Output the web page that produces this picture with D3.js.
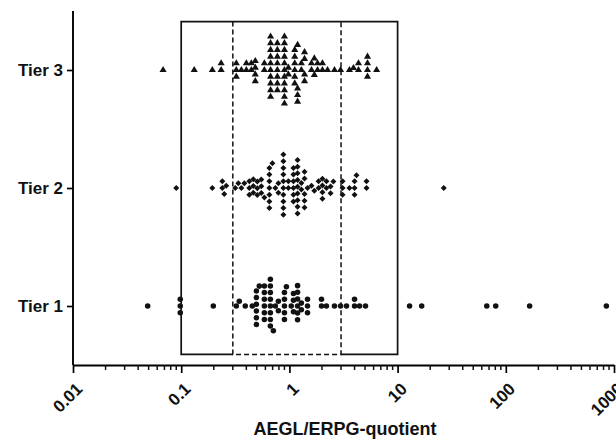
<!DOCTYPE html>
<html>
<head>
<meta charset="utf-8">
<script src="https://cdn.jsdelivr.net/npm/d3@7"></script>
<style>
  body { margin: 0; background: #fff; }
  text { font-family: "Liberation Sans", Arial, sans-serif; font-weight: bold; fill: #111; }
</style>
</head>
<body>
<svg id="chart" width="616" height="440"></svg>
<script>
const tiers = ["Tier 1", "Tier 2", "Tier 3"]
const xTicks = [0.01, 0.1, 1, 10, 100, 1000]

// AEGL/ERPG quotients per tier
const tier1 = [0.049, 0.098, 0.098, 0.098, 0.198, 0.323, 0.344, 0.391, 0.454,
  0.495, 0.495, 0.495, 0.495, 0.495, 0.495, 0.527, 0.587, 0.587, 0.587, 0.587, 0.587, 0.587,
  0.667, 0.667, 0.667, 0.667, 0.667, 0.667, 0.667, 0.667, 0.711, 0.742, 0.791, 0.791,
  0.90, 0.90, 0.90, 0.90, 0.90, 0.938, 1.04, 1.09, 1.09, 1.09,
  1.19, 1.19, 1.19, 1.19, 1.19, 1.19, 1.29, 1.29,
  1.47, 1.47, 1.47, 1.98, 1.98, 2.2, 2.61, 2.97, 3.37, 4.0, 4.0, 4.45, 5.05,
  12.9, 16.7, 66.7, 80.7, 166, 850]

const tier2 = [0.09, 0.194, 0.24, 0.24, 0.25, 0.261, 0.316, 0.337, 0.36, 0.383,
  0.426, 0.426, 0.426, 0.464, 0.464, 0.464, 0.505, 0.505, 0.505, 0.55, 0.55, 0.55,
  0.587, 0.653, 0.653, 0.653, 0.653, 0.653, 0.653, 0.653, 0.696, 0.742, 0.791, 0.791,
  0.88, 0.88, 0.88, 0.88, 0.88, 0.88, 0.88, 0.88, 0.88, 0.88, 0.979, 0.979,
  1.09, 1.09, 1.09, 1.09, 1.09, 1.09, 1.19, 1.19, 1.19, 1.19, 1.19, 1.19, 1.19, 1.19, 1.19,
  1.29, 1.29, 1.38, 1.38, 1.38, 1.38, 1.38, 1.47, 1.6, 1.7, 1.86, 1.86,
  2.02, 2.02, 2.02, 2.02, 2.2, 2.2, 2.4, 2.4, 2.55, 3.1, 3.1, 3.1, 3.59,
  4.0, 4.0, 4.0, 4.17, 5.16, 5.16, 26.7]

const tier3 = [0.068, 0.132, 0.194, 0.234, 0.234, 0.323, 0.323, 0.323, 0.36, 0.40, 0.40,
  0.445, 0.445, 0.484, 0.484, 0.484, 0.484, 0.587, 0.587,
  0.67, 0.67, 0.67, 0.67, 0.67, 0.67, 0.67, 0.67, 0.67, 0.67,
  0.774, 0.774, 0.774, 0.774, 0.774, 0.774, 0.774, 0.774,
  0.90, 0.90, 0.90, 0.90, 0.90, 0.90, 0.90, 0.90, 0.90, 0.90, 0.90, 0.979, 0.979,
  1.12, 1.12, 1.12, 1.12, 1.12, 1.12, 1.19, 1.19, 1.19, 1.19, 1.29, 1.29,
  1.38, 1.38, 1.38, 1.38, 1.6, 1.6, 1.7, 1.7, 1.82, 1.82, 2.02, 2.02,
  2.25, 2.61, 2.97, 3.59, 3.91, 4.35, 4.35, 5.27, 5.27, 5.27, 5.27, 6.4]

// reference bands: outer 0.1-10, inner 0.3-3
const outerBand = [0.1, 10]
const innerBand = [0.3, 3]

const svg = d3.select("#chart")
const margin = { left: 73, top: 11, right: 2, bottom: 75 }
const width = 616, height = 440
const axisY = height - margin.bottom

const x = d3.scaleLog().domain([0.01, 1000]).range([margin.left, width - margin.right])
const y = d3.scaleLinear().domain([0.5, 3.5]).range([axisY, margin.top])

// simple beeswarm: each point as near the tier line as it fits.
// marks may sit closer sideways (dx) than up/down (dy)
const swarm = (values, dx, dy) => {
  const k = dy / dx
  const pts = values.map(v => ({ v, x: x(v) })).sort((a, b) => a.x - b.x)
  const placed = []
  pts.forEach(p => {
    const near = placed.filter(q => Math.abs(q.x - p.x) < dx)
    const cands = [0]
    near.forEach(q => {
      const h = Math.sqrt(dy * dy - ((q.x - p.x) * k) ** 2)
      cands.push(q.dy + h, q.dy - h)
    })
    cands.sort((a, b) => Math.abs(a) - Math.abs(b) || a - b)
    p.dy = cands.find(c => near.every(q => ((q.x - p.x) * k) ** 2 + (q.dy - c) ** 2 >= dy * dy - 1e-6))
    placed.push(p)
  })
  return pts
}

// boxes
const boxTop = y(3.41), boxBottom = y(0.59)
svg.append("path")
  .attr("d", `M${x(innerBand[0])},${boxBottom}H${x(outerBand[0])}V${boxTop}H${x(outerBand[1])}V${boxBottom}H${x(innerBand[1])}`)
  .attr("fill", "none").attr("stroke", "#111").attr("stroke-width", 1.7)
svg.append("path")
  .attr("d", `M${x(innerBand[0])},${boxTop}V${boxBottom}H${x(innerBand[1])}V${boxTop}`)
  .attr("fill", "none").attr("stroke", "#111").attr("stroke-width", 1.5)
  .attr("stroke-dasharray", "5,3")

// points
const series = [
  { values: tier1, tier: 1, symbol: d3.symbolCircle, size: 24, rotate: 0 },
  { values: tier2, tier: 2, symbol: d3.symbolSquare, size: 18, rotate: 45 },
  { values: tier3, tier: 3, symbol: d3.symbolTriangle, size: 22, rotate: 0 }
]
series.forEach(s => {
  svg.append("g").selectAll("path")
    .data(swarm(s.values, 4.2, 6.7))
    .join("path")
    .attr("d", d3.symbol().type(s.symbol).size(s.size))
    .attr("transform", d => `translate(${d.x},${y(s.tier) + d.dy}) rotate(${s.rotate})`)
    .attr("fill", "#111")
})

// y axis
const yAxis = svg.append("g")
  .attr("transform", `translate(${margin.left},0)`)
  .call(d3.axisLeft(y).tickValues([1, 2, 3]).tickFormat(d => tiers[d - 1]).tickSize(6).tickPadding(4))
yAxis.select(".domain").attr("d", `M0,${margin.top}V${axisY}`)
yAxis.selectAll("line").attr("stroke-width", 1.7)
yAxis.select(".domain").attr("stroke-width", 1.9)
yAxis.selectAll("text").attr("font-size", 17).attr("font-family", "Liberation Sans, Arial, sans-serif")
  .attr("font-weight", "bold").attr("fill", "#111")

// x axis, majors and minors
const minors = []
xTicks.slice(0, -1).forEach(t => { for (let k = 2; k < 10; k++) minors.push(t * k) })
const xAxis = svg.append("g")
  .attr("transform", `translate(0,${axisY})`)
  .call(d3.axisBottom(x).tickValues(xTicks).tickFormat(d3.format("~g")).tickSize(8).tickSizeOuter(0))
xAxis.select(".domain").attr("stroke-width", 1.9)
xAxis.selectAll("line").attr("stroke-width", 1.7)
xAxis.selectAll("text")
  .attr("font-size", 17).attr("font-family", "Liberation Sans, Arial, sans-serif")
  .attr("font-weight", "bold").attr("fill", "#111")
  .attr("text-anchor", "end").attr("dy", 0)
  .attr("transform", "translate(10,25) rotate(-45)")
  .attr("y", 0).attr("x", 0)
svg.append("g").selectAll("line")
  .data(minors)
  .join("line")
  .attr("x1", d => x(d)).attr("x2", d => x(d))
  .attr("y1", axisY).attr("y2", axisY + 5)
  .attr("stroke", "#111").attr("stroke-width", 1.5)

svg.append("text")
  .attr("x", 345).attr("y", 435)
  .attr("text-anchor", "middle").attr("font-size", 18)
  .text("AEGL/ERPG-quotient")
</script>
</body>
</html>
